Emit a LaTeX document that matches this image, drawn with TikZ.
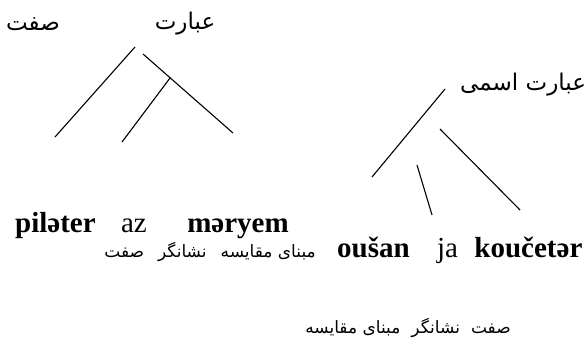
\documentclass[tikz,border=0pt]{standalone}
\usepackage{fontspec}
\setmainfont{Liberation Serif}
\newfontfamily\farsi[Script=Arabic]{DejaVu Sans}
\TeXXeTstate=1
\usetikzlibrary{positioning}

\begin{document}
\begin{tikzpicture}[x=1pt,y=-1pt,
  fa/.style={font=\farsi\fontsize{23}{26}\selectfont,inner sep=0pt},
  faword/.style={font=\farsi\fontsize{17}{20}\selectfont,inner sep=0pt},
  word/.style={font=\bfseries\fontsize{29}{32}\selectfont,inner sep=0pt},
  gloss/.style={font=\fontsize{29}{32}\selectfont,inner sep=0pt},
  branch/.style={line width=1.1pt}]
\useasboundingbox (0,0) rectangle (588,340);
% labels of the two phrases
\node[fa] (adj) at (33,24) {\beginR صفت\endR};
\node[fa] (phr) at (185,24) {\beginR عبارت\endR};
\node[fa,anchor=west] (np) at (460,85) {\beginR عبارت اسمی\endR};
% left tree
\coordinate (la) at (135,47); \coordinate (lb) at (55,137);
\coordinate (lc) at (143,54); \coordinate (ld) at (233,133);
\coordinate (le) at (170,78); \coordinate (lf) at (122,142);
\draw[branch] (la)--(lb) (lc)--(ld) (le)--(lf);
% right tree
\coordinate (ra) at (445,89); \coordinate (rb) at (372,177);
\coordinate (rc) at (440,129); \coordinate (rd) at (520,210);
\coordinate (re) at (417,165); \coordinate (rf) at (432,215);
\draw[branch] (ra)--(rb) (rc)--(rd) (re)--(rf);
% words
\node[word,anchor=base west] (pil) at (15,232) {piləter};
\node[gloss,base right=25pt of pil] (az) {az};
\node[word,base right=40pt of az] (mar) {məryem};
\node[word,anchor=base west] (ous) at (337,257) {oušan};
\node[gloss,base right=27pt of ous] (ja) {ja};
\node[word,base right=16pt of ja] (kou) {koučetər};
% glosses
\node[faword,anchor=base east] (g1) at (316,257) {\beginR مبنای مقایسه\hspace{14pt}نشانگر\hspace{14pt}صفت\endR};
\node[faword,anchor=base] (g2) at (408,333) {\beginR صفت\hspace{11pt}نشانگر\hspace{11pt}مبنای مقایسه\endR};
\end{tikzpicture}
\end{document}
